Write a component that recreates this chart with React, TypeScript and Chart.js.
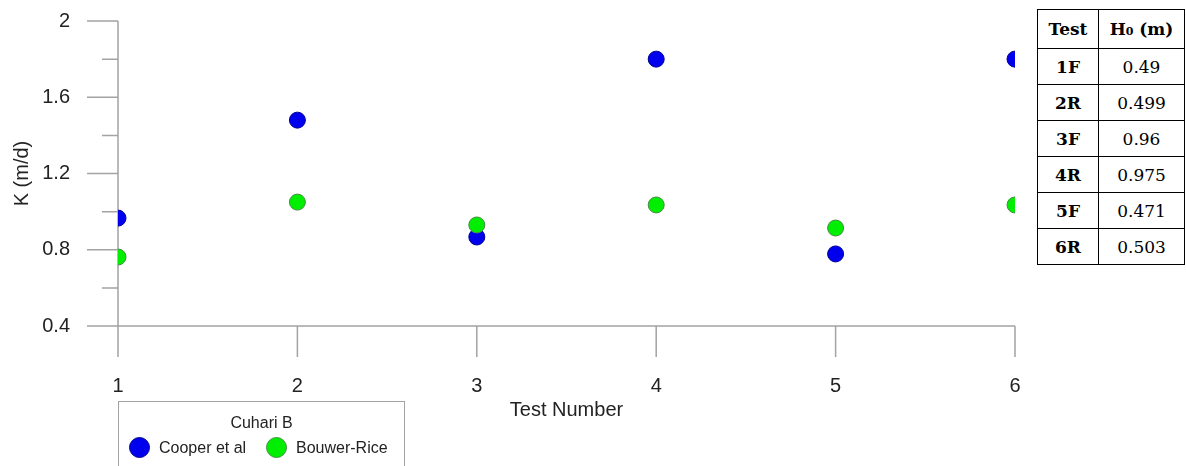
import React, { useEffect, useRef } from "react";
import { Chart, registerables } from "chart.js";

Chart.register(...registerables);

// Hydraulic conductivity per slug test, two interpretation methods
const testNumbers = [1, 2, 3, 4, 5, 6];
const cooperK = [0.966, 1.48, 0.867, 1.8, 0.778, 1.8];
const bouwerRiceK = [0.762, 1.05, 0.93, 1.035, 0.914, 1.035];

const legendTitle = "Cuhari B";
const seriesNames = ["Cooper et al", "Bouwer-Rice"];

// Initial head per test
const testIds = ["1F", "2R", "3F", "4R", "5F", "6R"];
const initialHead = ["0.49", "0.499", "0.96", "0.975", "0.471", "0.503"];

const BLUE = "rgb(0,0,238)";
const BLUE_EDGE = "rgb(0,0,150)";
const GREEN = "rgb(0,238,0)";
const GREEN_EDGE = "rgb(70,140,70)";
const AXIS = "#a3a3a3";
const TEXT = "#222";
const SANS = "'Liberation Sans', Arial, sans-serif";
const SERIF = "'DejaVu Serif', Cambria, serif";

const MAJOR_TICK = 31;
const MINOR_TICK = 16;

// Axis lines with long outward ticks, half-step minor ticks on the value axis
const axesPlugin = {
  id: "outwardAxes",
  beforeDatasetsDraw(chart: any) {
    const { ctx, chartArea, scales } = chart;
    const { left, right, top, bottom } = chartArea;
    const x = scales.x;
    const y = scales.y;
    ctx.save();
    ctx.strokeStyle = AXIS;
    ctx.lineWidth = 1.5;
    ctx.beginPath();
    ctx.moveTo(left, top);
    ctx.lineTo(left, bottom + MAJOR_TICK);
    ctx.moveTo(left - MAJOR_TICK, bottom);
    ctx.lineTo(right, bottom);
    const yTicks = y.ticks.map((t: any) => t.value);
    yTicks.forEach((v: number, i: number) => {
      const py = y.getPixelForValue(v);
      ctx.moveTo(left - MAJOR_TICK, py);
      ctx.lineTo(left, py);
      if (i < yTicks.length - 1) {
        const pm = y.getPixelForValue((v + yTicks[i + 1]) / 2);
        ctx.moveTo(left - MINOR_TICK, pm);
        ctx.lineTo(left, pm);
      }
    });
    x.ticks.forEach((t: any) => {
      const px = x.getPixelForValue(t.value);
      ctx.moveTo(px, bottom);
      ctx.lineTo(px, bottom + MAJOR_TICK);
    });
    ctx.stroke();
    ctx.restore();
  },
};

function LegendDot({ fill, edge }: { fill: string; edge: string }) {
  return (
    <span
      style={{
        display: "inline-block",
        width: 21,
        height: 21,
        borderRadius: "50%",
        background: fill,
        border: `1px solid ${edge}`,
        boxSizing: "border-box",
        marginRight: 9,
      }}
    />
  );
}

export default function App() {
  const canvasRef = useRef<HTMLCanvasElement | null>(null);

  useEffect(() => {
    const canvas = canvasRef.current;
    if (!canvas) return;
    const chart = new Chart(canvas, {
      type: "scatter",
      data: {
        datasets: [
          {
            label: seriesNames[0],
            data: testNumbers.map((t, i) => ({ x: t, y: cooperK[i] })),
            backgroundColor: BLUE,
            borderColor: BLUE_EDGE,
            borderWidth: 1,
            pointRadius: 8,
            order: 1,
          },
          {
            label: seriesNames[1],
            data: testNumbers.map((t, i) => ({ x: t, y: bouwerRiceK[i] })),
            backgroundColor: GREEN,
            borderColor: GREEN_EDGE,
            borderWidth: 1,
            pointRadius: 8,
            order: 0,
          },
        ],
      },
      options: {
        animation: false,
        responsive: false,
        maintainAspectRatio: false,
        layout: { padding: { left: 0, top: 21, right: 171, bottom: 0 } },
        plugins: {
          legend: { display: false },
          tooltip: { enabled: false },
        },
        scales: {
          x: {
            type: "linear",
            min: 1,
            max: 6,
            grid: { display: false, drawTicks: false },
            border: { display: false },
            ticks: {
              stepSize: 1,
              padding: 48,
              color: TEXT,
              font: { family: SANS, size: 20 },
              maxRotation: 0,
              callback: (v: any) => String(v),
            },
            title: {
              display: true,
              text: "Test Number",
              color: TEXT,
              font: { family: SANS, size: 20 },
              padding: { top: 44, bottom: 44 },
            },
            afterFit: (s: any) => {
              s.height = 140;
              s.paddingLeft = 0;
              s.paddingRight = 0;
            },
          },
          y: {
            type: "linear",
            min: 0.4,
            max: 2,
            grid: { display: false, drawTicks: false },
            border: { display: false },
            ticks: {
              stepSize: 0.4,
              padding: 48,
              color: TEXT,
              font: { family: SANS, size: 20 },
              callback: (v: any) => String(+Number(v).toFixed(1)),
            },
            title: {
              display: true,
              text: "K (m/d)",
              color: TEXT,
              font: { family: SANS, size: 20 },
              padding: { top: 10, bottom: 10 },
            },
            afterFit: (s: any) => {
              s.width = 118;
              s.paddingTop = 0;
              s.paddingBottom = 0;
            },
          },
        },
      },
      plugins: [axesPlugin],
    });
    return () => chart.destroy();
  }, []);

  const cell: React.CSSProperties = {
    border: "1.5px solid #000",
    textAlign: "center",
    padding: 0,
    height: 35,
    fontFamily: SERIF,
    fontSize: 17,
    color: "#000",
  };

  return (
    <div
      style={{
        position: "fixed",
        left: 0,
        top: 0,
        width: 1186,
        height: 466,
        overflow: "hidden",
        background: "#fff",
      }}
    >
      <canvas ref={canvasRef} width={1186} height={466} style={{ position: "absolute", left: 0, top: 0 }} />

      <div
        style={{
          position: "absolute",
          left: 118,
          top: 401,
          width: 287,
          height: 90,
          border: `1px solid ${AXIS}`,
          boxSizing: "border-box",
          fontFamily: SANS,
          color: TEXT,
        }}
      >
        <div style={{ textAlign: "center", fontSize: 16, marginTop: 11, lineHeight: "19px" }}>{legendTitle}</div>
        <div style={{ display: "flex", alignItems: "center", marginTop: 5, marginLeft: 10, fontSize: 16 }}>
          <LegendDot fill={BLUE} edge={BLUE_EDGE} />
          <span style={{ width: 107 }}>{seriesNames[0]}</span>
          <LegendDot fill={GREEN} edge={GREEN_EDGE} />
          <span>{seriesNames[1]}</span>
        </div>
      </div>

      <table
        style={{
          position: "absolute",
          left: 1037,
          top: 9,
          borderCollapse: "collapse",
          background: "#fff",
        }}
      >
        <tbody>
          <tr>
            <th style={{ ...cell, width: 60, height: 38, fontWeight: 700 }}>Test</th>
            <th style={{ ...cell, width: 85, height: 38, fontWeight: 700 }}>
              H<span style={{ fontSize: 11 }}>0</span> (m)
            </th>
          </tr>
          {testIds.map((id, i) => (
            <tr key={id}>
              <td style={{ ...cell, fontWeight: 700 }}>{id}</td>
              <td style={cell}>{initialHead[i]}</td>
            </tr>
          ))}
        </tbody>
      </table>
    </div>
  );
}
